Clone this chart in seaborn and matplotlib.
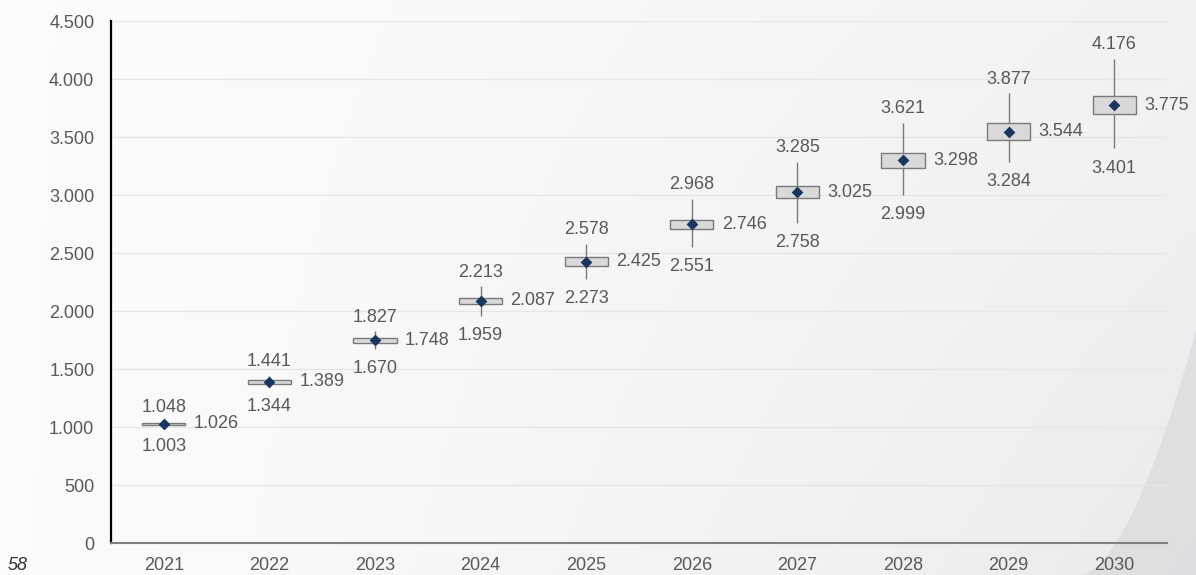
import numpy as np
import pandas as pd
import matplotlib
matplotlib.use("Agg")
import matplotlib.pyplot as plt
from matplotlib.patches import Polygon
import seaborn as sns

# ---- data ----
years = ["2021", "2022", "2023", "2024", "2025", "2026", "2027", "2028", "2029", "2030"]
low = [1003, 1344, 1670, 1959, 2273, 2551, 2758, 2999, 3284, 3401]
high = [1048, 1441, 1827, 2213, 2578, 2968, 3285, 3621, 3877, 4176]
mean = [1026, 1389, 1748, 2087, 2425, 2746, 3025, 3298, 3544, 3775]
box_low = [1021, 1369, 1728, 2058, 2388, 2706, 2974, 3233, 3471, 3698]
box_high = [1031, 1409, 1768, 2116, 2462, 2786, 3077, 3363, 3617, 3852]
y_ticks = [0, 500, 1000, 1500, 2000, 2500, 3000, 3500, 4000, 4500]
page_number = "58"


def fmt(v):
    return f"{v:,.0f}".replace(",", ".")


sns.set_theme(style="white")
plt.rcParams["font.family"] = ["Liberation Sans", "DejaVu Sans"]
TXT = "#595959"

fig = plt.figure(figsize=(11.96, 5.75), dpi=100)

# background gradient
bg = fig.add_axes([0, 0, 1, 1], zorder=-10)
w, h = 400, 200
xx = np.linspace(0, 1, w)
yy = np.linspace(0, 1, h)[:, None]
val = 0.985 - 0.065 * xx[None, :] ** 1.3 * (0.55 + 0.45 * yy)
img = np.dstack([val, val, val + 0.006])
bg.imshow(np.clip(img, 0, 1), extent=[0, 1, 0, 1], aspect="auto", origin="upper")
t = np.linspace(0, 1, 50)
cx = 1080 / 1196 + (1.0 - 1080 / 1196) * t ** 0.75
cy = 0 + (1 - 330 / 575) * t ** 1.3
poly = np.vstack([np.column_stack([cx, cy]), [[1, 0]]])
bg.add_patch(Polygon(poly, closed=True, color="#dcdce0", alpha=0.8, lw=0))
bg.set_xlim(0, 1)
bg.set_ylim(0, 1)
bg.axis("off")

ax = fig.add_axes([111 / 1196, 1 - 543 / 575, (1167 - 111) / 1196, (543 - 21) / 575])
ax.set_facecolor("none")

stats = np.column_stack([low, box_low, mean, box_high, high])
df = pd.DataFrame({"year": np.repeat(years, 5), "value": stats.ravel()})

sns.boxplot(
    data=df, x="year", y="value", whis=(0, 100), width=0.41,
    color="#d9d9d9", linecolor="#7a7a7a", linewidth=1.0,
    showfliers=False, showcaps=False,
    medianprops={"linewidth": 0},
    ax=ax, zorder=3,
)
sns.stripplot(x=years, y=mean, jitter=False, marker="D", size=6,
              color="#17375e", ax=ax, zorder=6)

for i, y in enumerate(years):
    ax.annotate(fmt(high[i]), (i, high[i]), xytext=(0, 4), textcoords="offset points",
                ha="center", va="bottom", fontsize=13, color=TXT)
    ax.annotate(fmt(low[i]), (i, low[i]), xytext=(0, -8), textcoords="offset points",
                ha="center", va="top", fontsize=13, color=TXT)
    ax.annotate(fmt(mean[i]), (i + 0.205, mean[i]), xytext=(6, 0), textcoords="offset points",
                ha="left", va="center", fontsize=13, color=TXT)

ax.set_ylim(0, 4500)
ax.set_xlim(-0.5, len(years) - 0.5)
ax.set_yticks(y_ticks)
ax.set_yticklabels([fmt(v) for v in y_ticks])
ax.set_xlabel("")
ax.set_ylabel("")
ax.grid(axis="y", color="#e6e6e6", linewidth=1)
ax.set_axisbelow(True)
ax.tick_params(axis="y", length=0, pad=12, labelsize=13, labelcolor=TXT)
ax.tick_params(axis="x", which="major", length=0, pad=10, labelsize=13, labelcolor=TXT)
ax.set_xticks(np.arange(len(years) + 1) - 0.5, minor=True)
ax.tick_params(axis="x", which="minor", length=5, width=1, color="#808080", direction="out")

for s in ["top", "right"]:
    ax.spines[s].set_visible(False)
ax.spines["left"].set_color("black")
ax.spines["left"].set_linewidth(1.6)
ax.spines["bottom"].set_color("#808080")
ax.spines["bottom"].set_linewidth(1.5)

fig.text(8 / 1196, 1 - 566 / 575, page_number, fontsize=13, style="italic",
         color="#333333", va="center", ha="left")

fig.savefig("out.png", dpi=100)
